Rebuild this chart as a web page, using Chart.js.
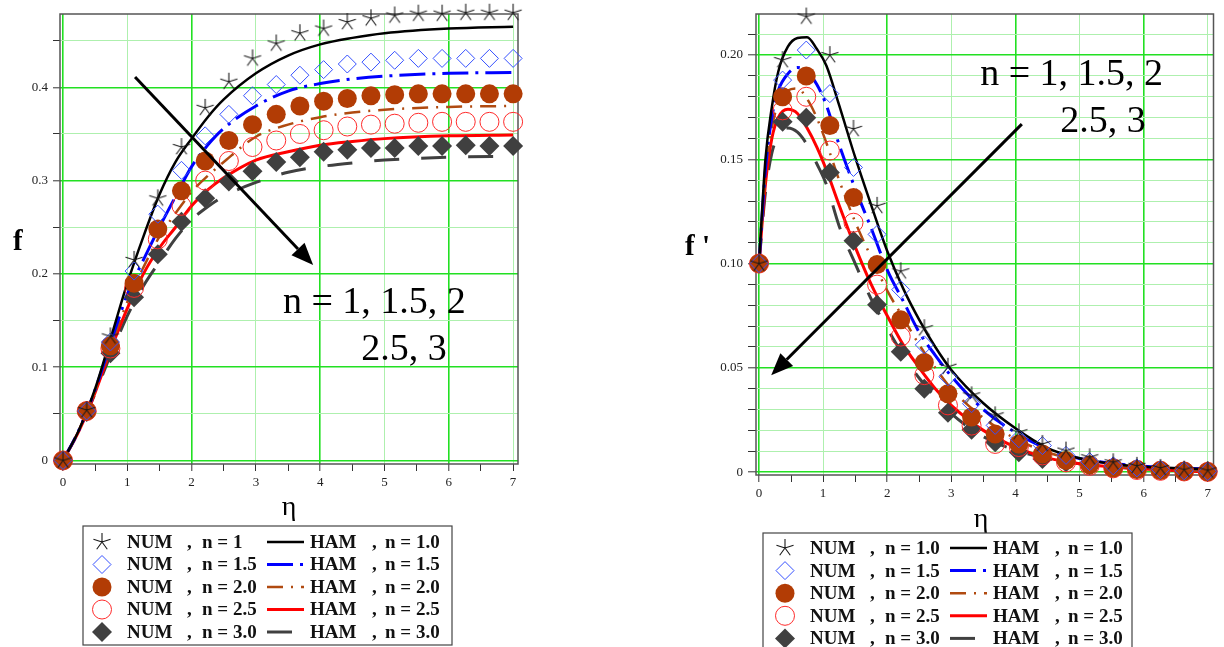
<!DOCTYPE html>
<html>
<head>
<meta charset="utf-8">
<script src="https://cdn.jsdelivr.net/npm/chart.js@4.4.1/dist/chart.umd.min.js"></script>
<style>
  html, body { margin: 0; padding: 0; background: #fff; }
  body { width: 1224px; height: 647px; position: relative; overflow: hidden; }
  .panel { position: absolute; top: 0; height: 647px; }
  #left { left: 0; width: 540px; }
  #right { left: 680px; width: 544px; }
</style>
</head>
<body>
<div class="panel" id="left"><canvas id="chart-f" width="540" height="647"></canvas></div>
<div class="panel" id="right"><canvas id="chart-fp" width="544" height="647"></canvas></div>
<script>
// eta positions of the numerical (NUM) markers
var etaNum = [0, 0.368, 0.737, 1.105, 1.474, 1.842, 2.211, 2.579, 2.947, 3.316,
              3.684, 4.053, 4.421, 4.789, 5.158, 5.526, 5.895, 6.263, 6.632, 7.0];

// f(eta), NUM markers
var fNum1   = [0, 0.054, 0.133, 0.215, 0.281, 0.336, 0.378, 0.406, 0.431, 0.447, 0.458, 0.463, 0.470, 0.474, 0.477, 0.479, 0.479, 0.480, 0.480, 0.480];
var fNum15  = [0, 0.053, 0.127, 0.203, 0.264, 0.311, 0.348, 0.371, 0.391, 0.403, 0.413, 0.419, 0.425, 0.427, 0.429, 0.431, 0.431, 0.431, 0.431, 0.431];
var fNum2   = [0, 0.053, 0.123, 0.190, 0.248, 0.289, 0.321, 0.343, 0.360, 0.371, 0.380, 0.385, 0.388, 0.391, 0.392, 0.393, 0.393, 0.393, 0.393, 0.393];
var fNum25  = [0, 0.053, 0.120, 0.185, 0.237, 0.273, 0.300, 0.321, 0.336, 0.343, 0.350, 0.354, 0.358, 0.360, 0.361, 0.362, 0.363, 0.363, 0.363, 0.363];
var fNum3   = [0, 0.052, 0.115, 0.175, 0.221, 0.256, 0.281, 0.299, 0.310, 0.320, 0.325, 0.331, 0.333, 0.335, 0.335, 0.337, 0.337, 0.338, 0.337, 0.337];

// f(eta), HAM curves
var etaHamF = [0, 0.25, 0.5, 0.75, 1, 1.25, 1.5, 1.75, 2, 2.25, 2.5, 3, 3.5, 4, 4.5, 5, 6, 7];
var fHam1   = [0, 0.033, 0.077, 0.133, 0.190, 0.240, 0.285, 0.320, 0.345, 0.368, 0.387, 0.415, 0.434, 0.446, 0.453, 0.458, 0.463, 0.465];
var fHam15  = [0, 0.033, 0.076, 0.128, 0.178, 0.215, 0.250, 0.283, 0.315, 0.338, 0.356, 0.380, 0.396, 0.404, 0.409, 0.412, 0.415, 0.416];
var fHam2   = [0, 0.033, 0.075, 0.124, 0.170, 0.207, 0.240, 0.265, 0.288, 0.305, 0.320, 0.347, 0.360, 0.368, 0.373, 0.376, 0.379, 0.380];
var fHam25  = [0, 0.032, 0.073, 0.120, 0.163, 0.200, 0.228, 0.250, 0.273, 0.290, 0.303, 0.322, 0.331, 0.338, 0.342, 0.345, 0.348, 0.349];
var fHam3   = [0, 0.032, 0.072, 0.115, 0.155, 0.187, 0.213, 0.238, 0.258, 0.272, 0.283, 0.298, 0.309, 0.315, 0.319, 0.322, 0.325, 0.326];

// f'(eta), NUM markers
var fpNum1  = [0.1, 0.1976, 0.2185, 0.200, 0.1646, 0.1277, 0.0963, 0.069, 0.0505, 0.0368, 0.0272, 0.0191, 0.0135, 0.0103, 0.0071, 0.0047, 0.003, 0.002, 0.0012, 0.0008];
var fpNum15 = [0.1, 0.188, 0.2024, 0.1815, 0.1461, 0.114, 0.0875, 0.061, 0.0457, 0.0328, 0.0224, 0.016, 0.0127, 0.008, 0.005, 0.003, 0.002, 0.0012, 0.0006, 0.0003];
var fpNum2  = [0.1, 0.180, 0.190, 0.1662, 0.1317, 0.0995, 0.073, 0.0526, 0.0376, 0.0264, 0.0183, 0.0135, 0.0087, 0.0055, 0.0035, 0.002, 0.0012, 0.0007, 0.0004, 0.0002];
var fpNum25 = [0.1, 0.1735, 0.180, 0.1542, 0.1196, 0.0899, 0.065, 0.0465, 0.032, 0.0223, 0.0135, 0.012, 0.008, 0.0047, 0.003, 0.0018, 0.001, 0.0006, 0.0003, 0.0001];
var fpNum3  = [0.1, 0.168, 0.170, 0.1437, 0.111, 0.0802, 0.0577, 0.040, 0.0285, 0.0203, 0.0143, 0.0095, 0.0063, 0.0047, 0.0034, 0.0023, 0.0014, 0.001, 0.0005, 0.0005];

// f'(eta), HAM curves
var etaHamFp = [0, 0.1, 0.2, 0.3, 0.45, 0.6, 0.75, 0.9, 1.05, 1.25, 1.5, 1.75, 2, 2.25, 2.5, 2.75, 3, 3.5, 4, 4.5, 5, 5.5, 6, 7];
var fpHam1  = [0.1, 0.15, 0.175, 0.192, 0.204, 0.2082, 0.2086, 0.203, 0.195, 0.176, 0.151, 0.128, 0.106, 0.088, 0.073, 0.060, 0.049, 0.033, 0.021, 0.0115, 0.0066, 0.004, 0.0025, 0.0015];
var fpHam15 = [0.1, 0.145, 0.170, 0.183, 0.191, 0.194, 0.192, 0.186, 0.176, 0.157, 0.136, 0.117, 0.097, 0.082, 0.067, 0.056, 0.046, 0.030, 0.019, 0.011, 0.0065, 0.0042, 0.0028, 0.0015];
var fpHam2  = [0.1, 0.142, 0.165, 0.177, 0.183, 0.184, 0.179, 0.170, 0.158, 0.140, 0.120, 0.103, 0.087, 0.074, 0.061, 0.050, 0.040, 0.026, 0.016, 0.0095, 0.0055, 0.003, 0.0018, 0.0005];
var fpHam25 = [0.1, 0.138, 0.160, 0.170, 0.174, 0.172, 0.165, 0.156, 0.145, 0.128, 0.108, 0.090, 0.075, 0.061, 0.050, 0.040, 0.032, 0.020, 0.012, 0.0068, 0.004, 0.0025, 0.0015, 0];
var fpHam3  = [0.1, 0.134, 0.153, 0.161, 0.165, 0.163, 0.157, 0.148, 0.138, 0.118, 0.100, 0.083, 0.069, 0.056, 0.045, 0.036, 0.028, 0.017, 0.0105, 0.0065, 0.004, 0.0025, 0.0015, 0.0005];

// legend labels
var numLabelsF  = ['NUM , n = 1', 'NUM , n = 1.5', 'NUM , n = 2.0', 'NUM , n = 2.5', 'NUM , n = 3.0'];
var numLabelsFp = ['NUM , n = 1.0', 'NUM , n = 1.5', 'NUM , n = 2.0', 'NUM , n = 2.5', 'NUM , n = 3.0'];
var hamLabels   = ['HAM , n = 1.0', 'HAM , n = 1.5', 'HAM , n = 2.0', 'HAM , n = 2.5', 'HAM , n = 3.0'];
var noteLines   = ['n = 1, 1.5, 2', '2.5, 3'];

var SERIF = '"Liberation Serif", "Times New Roman", serif';
var GRID_MAJOR = '#22e022';
var GRID_MINOR = '#aef0ae';

function makeStar(r, color) {
  var c = document.createElement('canvas');
  c.width = c.height = 2 * r + 2;
  var g = c.getContext('2d');
  g.strokeStyle = color;
  g.lineWidth = 1.1;
  g.beginPath();
  for (var i = 0; i < 5; i++) {
    var a = -Math.PI / 2 + i * 2 * Math.PI / 5;
    g.moveTo(r + 1, r + 1);
    g.lineTo(r + 1 + r * Math.cos(a), r + 1 + r * Math.sin(a));
  }
  g.stroke();
  return c;
}
var starImg = makeStar(9, '#1a1a1a');

// marker look of the NUM series, line look of the HAM series
var numStyles = [
  { shape: 'star',    color: '#1a1a1a', fill: null,      r: 9 },
  { shape: 'diamond', color: '#3550ff', fill: null,      r: 9 },
  { shape: 'circle',  color: '#b23c05', fill: '#b23c05', r: 9.5 },
  { shape: 'circle',  color: '#ff2a2a', fill: null,      r: 9.5 },
  { shape: 'diamond', color: '#404040', fill: '#404040', r: 10 }
];
var hamStyles = [
  { color: '#000000', width: 2.5, dash: [] },
  { color: '#0000ff', width: 3,   dash: [26, 7, 3, 7] },
  { color: '#b04a10', width: 2.5, dash: [16, 8, 2, 8] },
  { color: '#ff0000', width: 3,   dash: [] },
  { color: '#404040', width: 3,   dash: [25, 22] }
];

function pts(xs, ys) {
  return xs.map(function(x, i) { return { x: x, y: ys[i] }; });
}

function buildDatasets(numX, numSeries, numLabels, hamX, hamSeries) {
  var sets = [];
  for (var i = 0; i < 5; i++) {
    var st = numStyles[i];
    sets.push({
      label: numLabels[i],
      data: pts(numX, numSeries[i]),
      showLine: false,
      pointStyle: st.shape === 'star' ? starImg : (st.shape === 'diamond' ? 'rectRot' : 'circle'),
      pointRadius: st.r,
      pointBackgroundColor: st.fill || 'rgba(0,0,0,0)',
      pointBorderColor: st.color,
      pointBorderWidth: st.fill ? 0 : 1,
      clip: false,
      order: 0
    });
  }
  for (var j = 0; j < 5; j++) {
    var hs = hamStyles[j];
    sets.push({
      label: hamLabels[j],
      data: pts(hamX, hamSeries[j]),
      showLine: true,
      pointRadius: 0,
      borderColor: hs.color,
      borderWidth: hs.width,
      borderDash: hs.dash,
      cubicInterpolationMode: 'monotone',
      fill: false,
      order: 1
    });
  }
  return sets;
}

function drawMarker(ctx, st, x, y) {
  ctx.save();
  if (st.shape === 'star') {
    ctx.drawImage(starImg, x - starImg.width / 2, y - starImg.height / 2);
  } else {
    ctx.beginPath();
    if (st.shape === 'circle') {
      ctx.arc(x, y, st.r, 0, 2 * Math.PI);
    } else {
      ctx.moveTo(x - st.r, y); ctx.lineTo(x, y - st.r);
      ctx.lineTo(x + st.r, y); ctx.lineTo(x, y + st.r);
      ctx.closePath();
    }
    if (st.fill) { ctx.fillStyle = st.fill; ctx.fill(); }
    else { ctx.strokeStyle = st.color; ctx.lineWidth = 1; ctx.stroke(); }
  }
  ctx.restore();
}

var decorPlugin = {
  id: 'decor',
  beforeDatasetsDraw: function(chart) {
    var ctx = chart.ctx, a = chart.chartArea;
    ctx.save();
    ctx.strokeStyle = '#555';
    ctx.lineWidth = 1.5;
    ctx.strokeRect(a.left, a.top, a.right - a.left, a.bottom - a.top);
    ctx.restore();
  },
  afterDatasetsDraw: function(chart, args, opts) {
    var ctx = chart.ctx, xs = chart.scales.x, ys = chart.scales.y;
    ctx.save();
    // arrow
    var ar = opts.arrow;
    var x1 = xs.getPixelForValue(ar.from[0]), y1 = ys.getPixelForValue(ar.from[1]);
    var x2 = xs.getPixelForValue(ar.to[0]), y2 = ys.getPixelForValue(ar.to[1]);
    var ang = Math.atan2(y2 - y1, x2 - x1);
    var hl = 22, hw = 9;
    var bx = x2 - hl * Math.cos(ang), by = y2 - hl * Math.sin(ang);
    ctx.strokeStyle = '#000';
    ctx.lineWidth = 3;
    ctx.beginPath(); ctx.moveTo(x1, y1); ctx.lineTo(bx, by); ctx.stroke();
    ctx.fillStyle = '#000';
    ctx.beginPath();
    ctx.moveTo(x2, y2);
    ctx.lineTo(bx + hw * Math.sin(ang), by - hw * Math.cos(ang));
    ctx.lineTo(bx - hw * Math.sin(ang), by + hw * Math.cos(ang));
    ctx.closePath();
    ctx.fill();
    // note text
    ctx.font = '38px ' + SERIF;
    ctx.textAlign = 'left';
    ctx.textBaseline = 'alphabetic';
    opts.notes.forEach(function(n, i) {
      ctx.fillText(noteLines[i], xs.getPixelForValue(n[0]), ys.getPixelForValue(n[1]));
    });
    ctx.restore();
  },
  afterDraw: function(chart, args, opts) {
    var ctx = chart.ctx;
    ctx.save();
    ctx.fillStyle = '#000';
    // axis titles
    ctx.textBaseline = 'alphabetic';
    ctx.textAlign = 'left';
    ctx.font = 'bold 29px ' + SERIF;
    ctx.fillText(opts.yTitle.text, opts.yTitle.x, opts.yTitle.y);
    ctx.textAlign = 'center';
    ctx.font = '28px ' + SERIF;
    ctx.fillText('\u03b7', opts.xTitle.x, opts.xTitle.y);

    // legend
    var L = opts.legend, o = L.offset;
    ctx.strokeStyle = '#444';
    ctx.lineWidth = 1.2;
    ctx.strokeRect(L.left, L.top, L.right - L.left, L.bottom - L.top);
    var ds = chart.data.datasets;
    ctx.font = 'bold 19px ' + SERIF;
    ctx.textAlign = 'left';
    ctx.textBaseline = 'middle';
    for (var i = 0; i < 5; i++) {
      var y = L.rowTop + i * L.rowStep;
      drawMarker(ctx, numStyles[i], o + 102, y);
      var np = ds[i].label.split(' , ');
      var hp = ds[i + 5].label.split(' , ');
      ctx.fillStyle = '#111';
      ctx.fillText(np[0], o + 127, y + 1);
      ctx.fillText(',', o + 187, y + 1);
      ctx.fillText(np[1], o + 202, y + 1);
      ctx.fillText(hp[0], o + 310, y + 1);
      ctx.fillText(',', o + 372, y + 1);
      ctx.fillText(hp[1], o + 385, y + 1);
      var hs = hamStyles[i];
      ctx.save();
      ctx.strokeStyle = hs.color;
      ctx.lineWidth = hs.width;
      ctx.setLineDash(hs.dash);
      ctx.beginPath();
      ctx.moveTo(o + 267, y);
      ctx.lineTo(o + 304, y);
      ctx.stroke();
      ctx.restore();
    }
    ctx.restore();
  }
};

function axisOptions(min, max, step, isMajor, labelFn, tickLen, pad, size) {
  return {
    type: 'linear',
    min: min,
    max: max,
    afterFit: size,
    border: { display: false },
    grid: {
      color: function(c) {
        var v = c.tick ? c.tick.value : 0;
        if (v === undefined) return 'rgba(0,0,0,0)';
        return isMajor(v) === 2 ? GRID_MAJOR : (isMajor(v) === 1 ? GRID_MINOR : 'rgba(0,0,0,0)');
      },
      lineWidth: function(c) {
        var v = c.tick ? c.tick.value : 0;
        return isMajor(v) === 2 ? 1.6 : 1;
      },
      tickColor: '#333',
      tickWidth: 1,
      tickLength: tickLen
    },
    ticks: {
      stepSize: step,
      includeBounds: false,
      autoSkip: false,
      maxRotation: 0,
      padding: pad,
      color: '#222',
      font: { family: SERIF, size: 13 },
      callback: labelFn
    }
  };
}

// x axis: grid at integers (bright at even), ticks every 0.5
function xLevel(v) {
  var h = Math.round(v * 2);
  if (h % 2 !== 0) return 0;
  return (h / 2) % 2 === 0 ? 2 : 1;
}
function xLabel(v) {
  var h = Math.round(v * 2);
  return h % 2 === 0 ? String(h / 2) : '';
}

function buildChart(el, cfg) {
  return new Chart(document.getElementById(el), {
    type: 'scatter',
    data: { datasets: cfg.datasets },
    options: {
      responsive: false,
      animation: false,
      events: [],
      layout: { padding: cfg.padding },
      plugins: { legend: { display: false }, tooltip: { enabled: false }, decor: cfg.decor },
      scales: {
        x: axisOptions(cfg.xMin, cfg.xMax, 0.5, xLevel, xLabel, 7, 4,
                       function(s) { s.height = 40; }),
        y: cfg.y
      }
    },
    plugins: [decorPlugin]
  });
}

// left chart: f
buildChart('chart-f', {
  datasets: buildDatasets(etaNum, [fNum1, fNum15, fNum2, fNum25, fNum3], numLabelsF,
                          etaHamF, [fHam1, fHam15, fHam2, fHam25, fHam3]),
  padding: { top: 14, left: 0, right: 22, bottom: 143 },
  xMin: -0.047, xMax: 7.076,
  y: axisOptions(-0.0038, 0.4786, 0.05,
    function(v) { var k = Math.round(v * 20); return k % 2 === 0 ? 2 : 1; },
    function(v) { var k = Math.round(v * 20); return k % 2 === 0 ? (k === 0 ? '0' : (k / 20).toFixed(1)) : ''; },
    7, 5, function(s) { s.width = 60; }),
  decor: {
    arrow: { from: [1.12, 0.411], to: [3.89, 0.2095] },
    notes: [[3.42, 0.158], [4.64, 0.108]],
    yTitle: { text: 'f', x: 13, y: 250 },
    xTitle: { x: 289, y: 515 },
    legend: { left: 83, right: 452, top: 526, bottom: 645, rowTop: 542, rowStep: 22.5, offset: 0 }
  }
});

// right chart: f'
buildChart('chart-fp', {
  datasets: buildDatasets(etaNum, [fpNum1, fpNum15, fpNum2, fpNum25, fpNum3], numLabelsFp,
                          etaHamFp, [fpHam1, fpHam15, fpHam2, fpHam25, fpHam3]),
  padding: { top: 14, left: 0, right: 9, bottom: 132 },
  xMin: -0.047, xMax: 7.09,
  y: axisOptions(-0.0014, 0.2197, 0.01,
    function(v) { var k = Math.round(v * 100); return k % 5 === 0 ? 2 : 1; },
    function(v) { var k = Math.round(v * 100); return k % 5 === 0 ? (k === 0 ? '0' : (k / 100).toFixed(2)) : ''; },
    8, 5, function(s) { s.width = 76; }),
  decor: {
    arrow: { from: [4.1, 0.1669], to: [0.19, 0.0465] },
    notes: [[3.45, 0.1856], [4.70, 0.163]],
    yTitle: { text: "f '", x: 5, y: 255 },
    xTitle: { x: 301, y: 527 },
    legend: { left: 83, right: 452, top: 533, bottom: 665, rowTop: 548, rowStep: 22.6, offset: 3 }
  }
});
</script>
</body>
</html>
